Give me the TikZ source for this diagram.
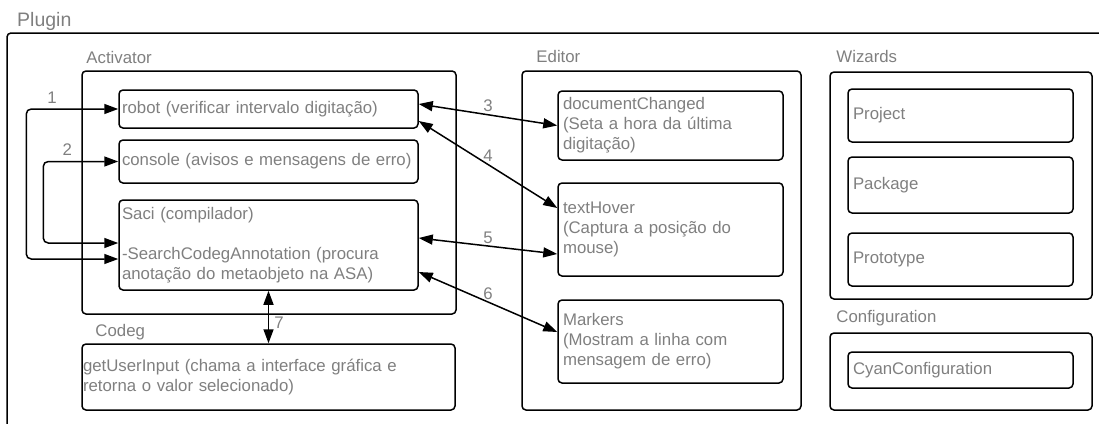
\documentclass[tikz,border=0pt]{standalone}
\usepackage{fontspec}
\setmainfont{Liberation Sans}
\usetikzlibrary{arrows.meta,positioning}
\definecolor{labelgray}{HTML}{7F7F7F}

\begin{document}
\begin{tikzpicture}[x=1pt, y=-1pt,
      font=\fontsize{16.8}{20}\selectfont,
      group/.style={draw, line width=1.5pt, rounded corners=4pt, inner sep=0pt},
      box/.style={draw, line width=1.5pt, rounded corners=4pt, text=labelgray, align=left, inner xsep=5pt, inner ysep=0pt},
      actbox/.style={box, inner xsep=3pt, minimum width=299pt, text width=293pt},
      edbox/.style={box, minimum width=225pt, text width=215pt},
      title/.style={text=labelgray, anchor=base west, inner sep=0pt},
      num/.style={text=labelgray, inner sep=2pt},
      link/.style={line width=1.5pt, {Triangle[length=14pt,width=10pt]}-{Triangle[length=14pt,width=10pt]}}]
    \clip (0,0) rectangle (1099,423);
    % Plugin frame, cut off at the right and at the bottom
    \draw[line width=1.5pt, rounded corners=4pt] (7,440) -- (7,33) coordinate (pluginnw) -- (1120,33);
    \node[title, font=\fontsize{19.5}{23}\selectfont] (pluginlbl) at ([xshift=10pt, yshift=7pt]pluginnw) {Plugin};

    % Activator
    \node[group, minimum width=374pt, minimum height=243pt] (activator) at (269,192.5) {};
    \node[title] (activatorlbl) at ([xshift=5pt, yshift=7pt]activator.north west) {Activator};
    \node[actbox, minimum height=38pt] (robot) at (268.5,109) {robot (verificar intervalo digitação)};
    \node[actbox, minimum height=43pt] (console) at (268.5,161.5) {console (avisos e mensagens de erro)};
    \node[actbox, minimum height=90pt] (saci) at (268.5,245) {Saci (compilador)\\[20pt]-SearchCodegAnnotation (procura\\anotação do metaobjeto na ASA)};

    % Codeg
    \node[box, minimum width=373pt, text width=371pt, inner xsep=1pt, minimum height=66pt] (userinput) at (268.5,377) {getUserInput (chama a interface gráfica e\\retorna o valor selecionado)};
    \node[title] (codeglbl) at ([xshift=14pt, yshift=7pt]userinput.north west) {Codeg};

    % Editor
    \node[group, minimum width=279pt, minimum height=339pt] (editor) at (661.5,240.5) {};
    \node[title] (editorlbl) at ([xshift=15pt, yshift=8pt]editor.north west) {Editor};
    \node[edbox, minimum height=69pt] (docchanged) at (670.5,125.5) {documentChanged\\(Seta a hora da última\\digitação)};
    \node[edbox, minimum height=93pt] (texthover) at (670.5,229.5) {textHover\\(Captura a posição do\\mouse)};
    \node[edbox, minimum height=83pt] (markers) at (670.5,341.5) {Markers\\(Mostram a linha com\\mensagem de erro)};

    % Wizards
    \node[group, minimum width=262pt, minimum height=227pt] (wizards) at (961,185.5) {};
    \node[title] (wizardslbl) at ([xshift=7pt, yshift=9pt]wizards.north west) {Wizards};
    \foreach \name/\y/\h/\txt in {project/115.5/53/Project, package/185/56/Package, prototype/259.5/53/Prototype} {
      \node[edbox, minimum height=\h pt] (\name) at (960.5,\y) {\txt};
    }

    % Configuration
    \node[group, minimum width=262pt, minimum height=77pt] (configuration) at (961,371.5) {};
    \node[title] (configurationlbl) at ([xshift=7pt, yshift=10pt]configuration.north west) {Configuration};
    \node[edbox, minimum height=36pt] (cyanconf) at (960.5,370) {CyanConfiguration};

    % connectors
    \draw[link, rounded corners=5pt] ([yshift=-14pt]saci.west) -- ++(-92,0) |- (robot.west) node[num, pos=0.64, above=3pt] {1};
    \draw[link, rounded corners=5pt] ([yshift=2pt]saci.west) -- ++(-75,0) |- (console.west) node[num, pos=0.66, above=3pt] {2};
    \draw[link] ([yshift=5pt]robot.east) -- (docchanged.west) node[num, midway, above] {3};
    \draw[link] ([yshift=-12pt]robot.east) -- ([yshift=21.5pt]texthover.west) node[num, midway, above] {4};
    \draw[link] ([yshift=7pt]saci.east) -- ([yshift=-24.5pt]texthover.west) node[num, midway, above] {5};
    \draw[link] ([yshift=-27pt]saci.east) -- ([yshift=9.5pt]markers.west) node[num, midway, above] {6};
    \draw[link] (saci.south) -- (userinput.north) node[num, pos=0.6, right=3pt] {7};
  \end{tikzpicture}
\end{document}
